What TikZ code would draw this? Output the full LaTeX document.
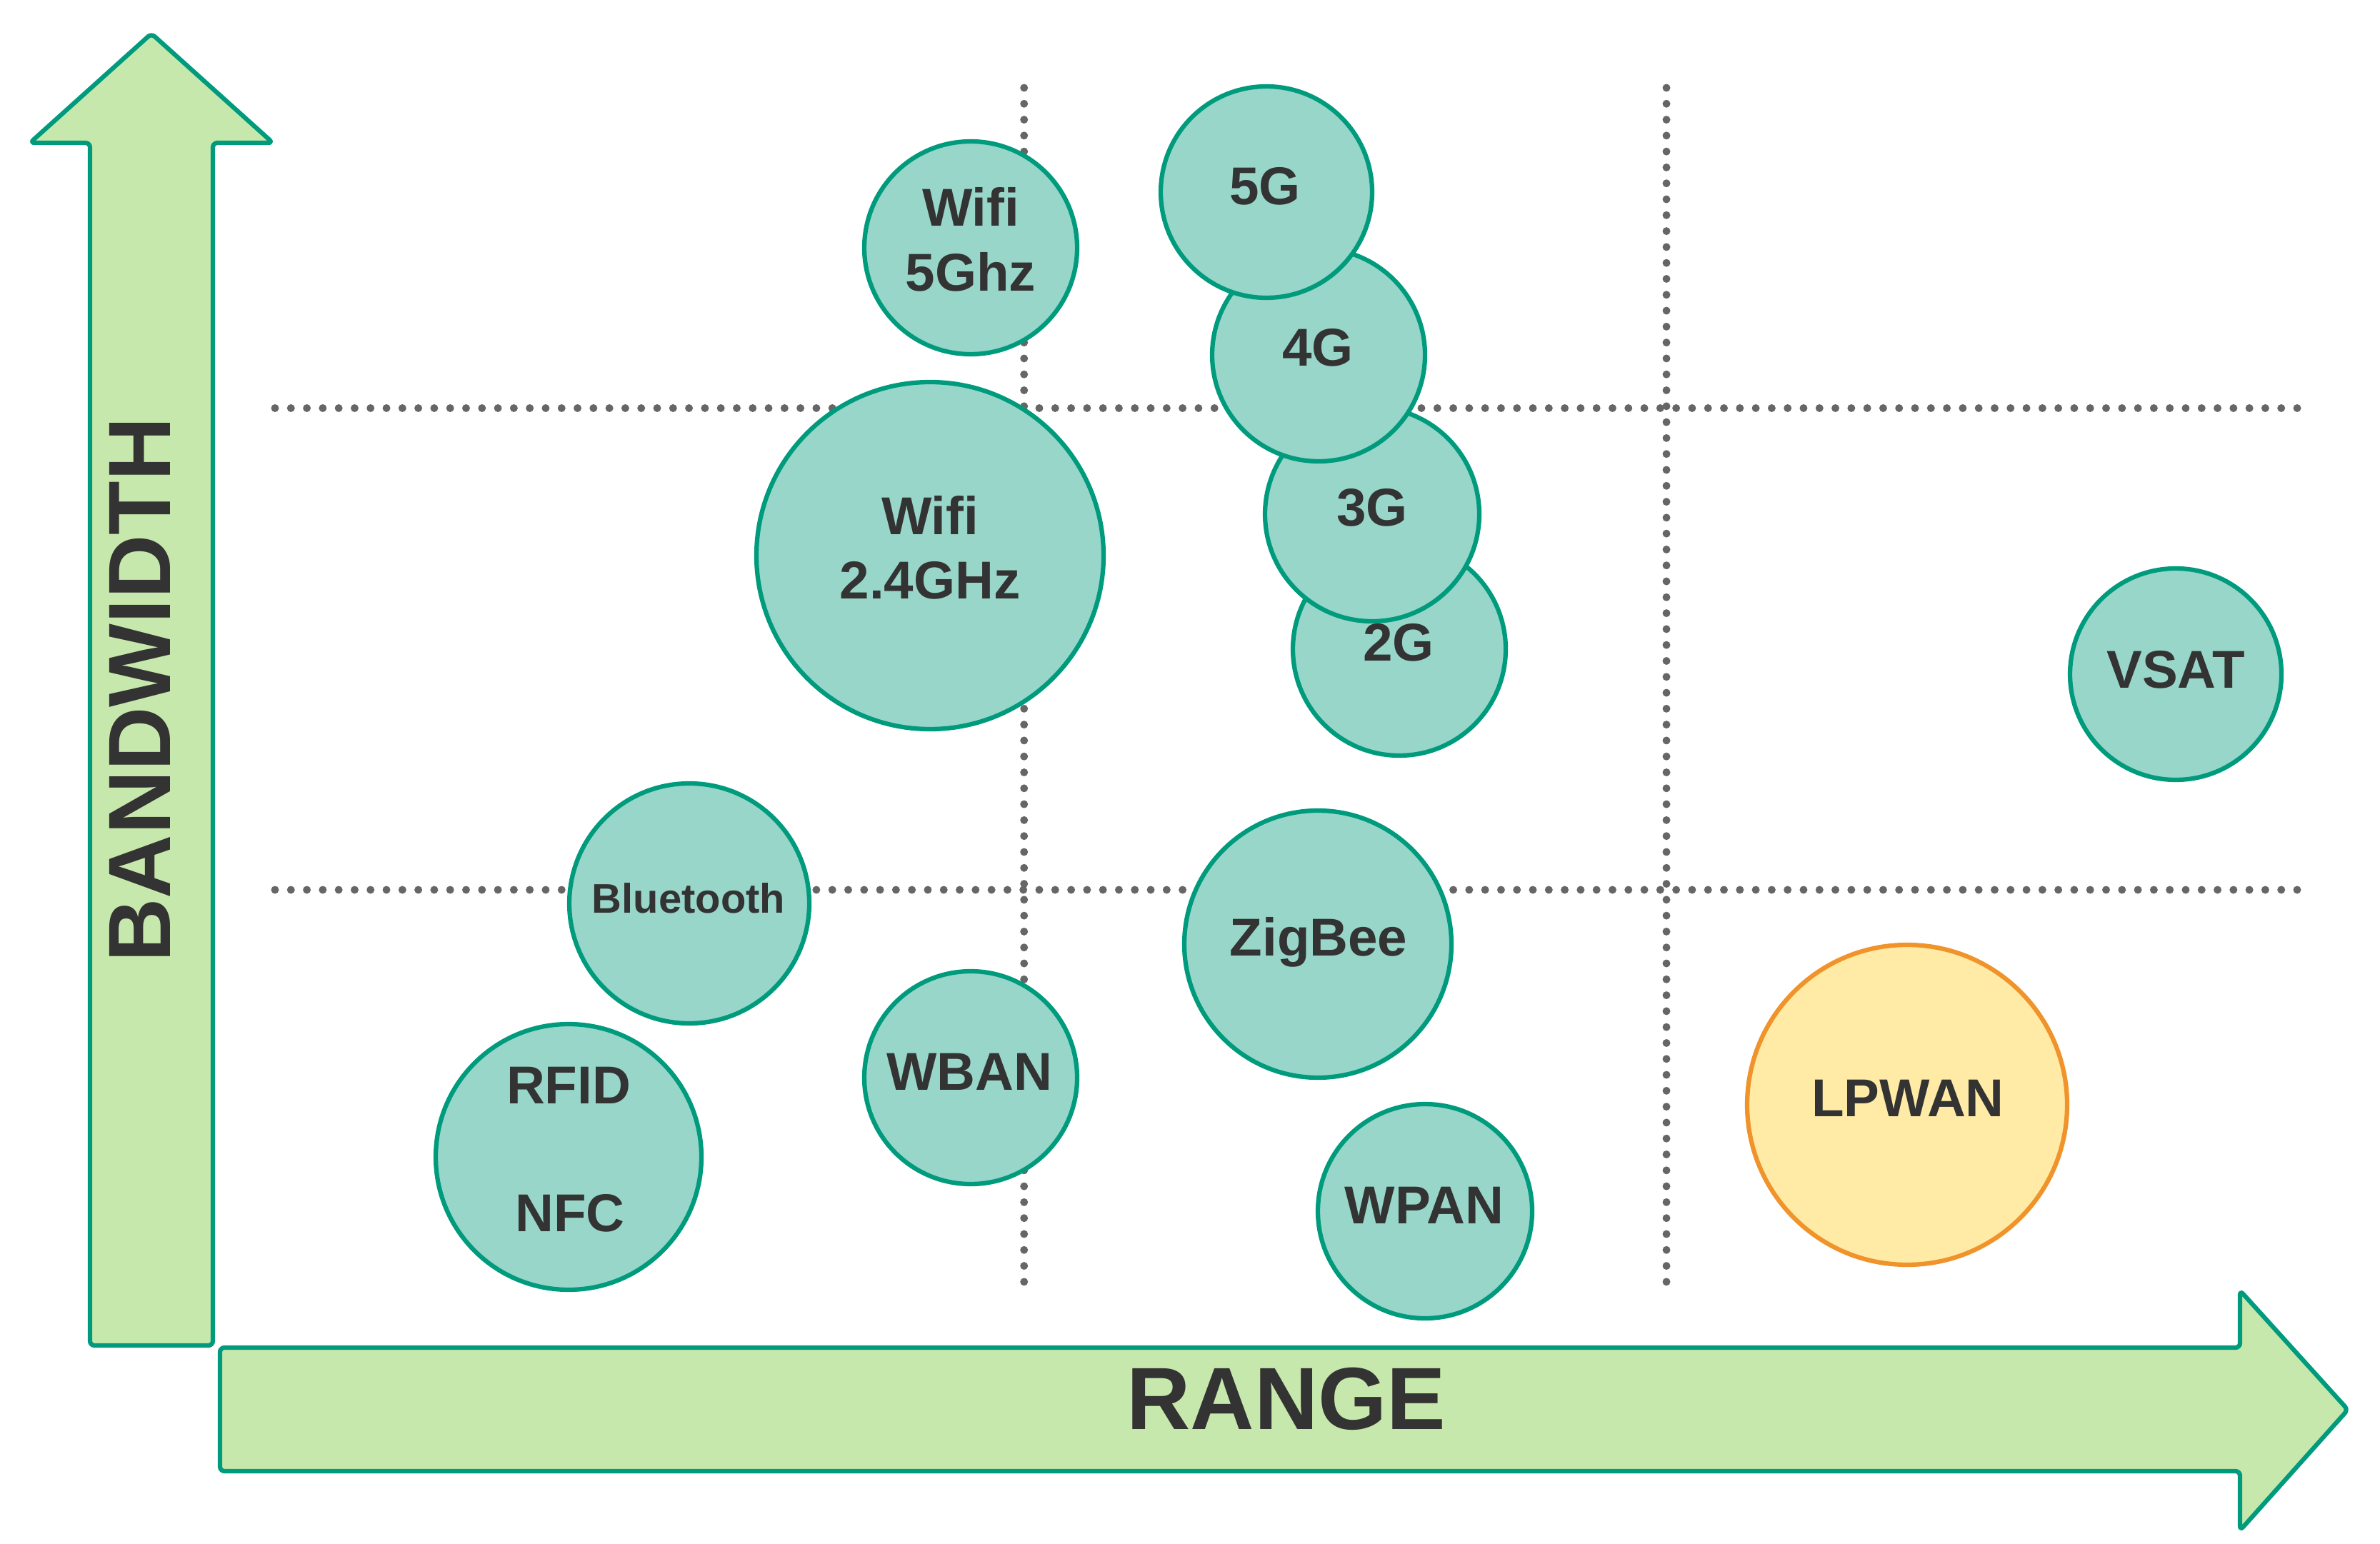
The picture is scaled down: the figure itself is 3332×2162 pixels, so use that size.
\documentclass[tikz,border=0pt]{standalone}
\usepackage{fontspec}
\setmainfont{Liberation Sans}
\definecolor{bubfill}{HTML}{97D6C9}
\definecolor{bubline}{HTML}{009B7D}
\definecolor{arrfill}{HTML}{C7E8AC}
\definecolor{txt}{HTML}{333333}
\definecolor{dots}{HTML}{666666}
\definecolor{lpfill}{HTML}{FFEBA6}
\definecolor{lpline}{HTML}{F0932B}
\begin{document}
\begin{tikzpicture}[x=0.24pt,y=-0.24pt,
  grid/.style={draw=dots,line width=2.64pt,line cap=round,dash pattern=on 0pt off 5.35pt},
  bub/.style={circle,draw=bubline,fill=bubfill,line width=1.5pt,inner sep=0pt,minimum size=#1*0.48pt},
  lpbub/.style={circle,draw=lpline,fill=lpfill,line width=1.5pt,inner sep=0pt,minimum size=#1*0.48pt},
  axisarrow/.style={draw=bubline,fill=arrfill,line width=1.5pt,line join=round,rounded corners=1.5pt},
  lbl/.style={text=txt,anchor=base,inner sep=0pt,font=\fontsize{17.9}{20}\selectfont\bfseries},
  smalllbl/.style={text=txt,anchor=base,inner sep=0pt,font=\fontsize{13.9}{16}\selectfont\bfseries},
  biglbl/.style={text=txt,anchor=base,inner sep=0pt,font=\fontsize{29.7}{32}\selectfont\bfseries}]
\useasboundingbox (0,0) rectangle (3332,2162);

% grid lines
\coordinate (v1t) at (1433.7,123);
\coordinate (v1b) at (1433.7,1808);
\coordinate (v2t) at (2333,123);
\coordinate (v2b) at (2333,1808);
\coordinate (h1l) at (385,571.5);
\coordinate (h1r) at (3230,571.5);
\coordinate (h2l) at (385,1246);
\coordinate (h2r) at (3230,1246);
\draw[grid] (v1t) -- (v1b);
\draw[grid] (v2t) -- (v2b);
\draw[grid] (h1l) -- (h1r);
\draw[grid] (h2l) -- (h2r);

% axis arrows
\draw[axisarrow] (126,1884) -- (126,200) -- (42,200) -- (212,47) -- (382,200) -- (298,200) -- (298,1884) -- cycle;
\draw[axisarrow] (308,1887) -- (3136,1887) -- (3136,1807) -- (3287,1974) -- (3136,2143) -- (3136,2060) -- (308,2060) -- cycle;
\node[biglbl,rotate=90] (bandwidth) at (238,966) {BANDWIDTH};
\node[biglbl] (range) at (1801,2001) {RANGE};

% bubbles
\node[bub=149] (wifi5) at (1359,347) {};
\node[lbl] (wifi5a) at (1359,317) {Wifi};
\node[lbl] (wifi5b) at (1359,408) {5Ghz};

\node[bub=243] (wifi24) at (1302,778) {};
\node[lbl] (wifi24a) at (1302,749) {Wifi};
\node[lbl] (wifi24b) at (1302,839) {2.4GHz};

\node[bub=149] (g2) at (1959,909) {};
\node[lbl] (g2l) at (1958,925) {2G};
\node[bub=150] (g3) at (1921,720) {};
\node[lbl] (g3l) at (1921,737) {3G};
\node[bub=149] (g4) at (1846,497) {};
\node[lbl] (g4l) at (1845,513) {4G};
\node[bub=148] (g5) at (1773,269) {};
\node[lbl] (g5l) at (1771,287) {5G};

\node[bub=148] (vsat) at (3046,944) {};
\node[lbl] (vsatl) at (3046,963) {VSAT};

\node[bub=168] (bt) at (965,1265) {};
\node[smalllbl] (btl) at (964,1278) {Bluetooth};

\node[bub=186] (rfid) at (796,1620) {};
\node[lbl] (rfidl) at (796,1545) {RFID};
\node[lbl] (nfcl) at (798,1724) {NFC};

\node[bub=149] (wban) at (1359,1509) {};
\node[lbl] (wbanl) at (1357,1526) {WBAN};

\node[bub=187] (zig) at (1845,1322) {};
\node[lbl] (zigl) at (1846,1338) {ZigBee};

\node[bub=150] (wpan) at (1995,1696) {};
\node[lbl] (wpanl) at (1994,1713) {WPAN};

\node[lpbub=224] (lpwan) at (2670,1547) {};
\node[lbl] (lpwanl) at (2671,1563) {LPWAN};
\end{tikzpicture}
\end{document}
